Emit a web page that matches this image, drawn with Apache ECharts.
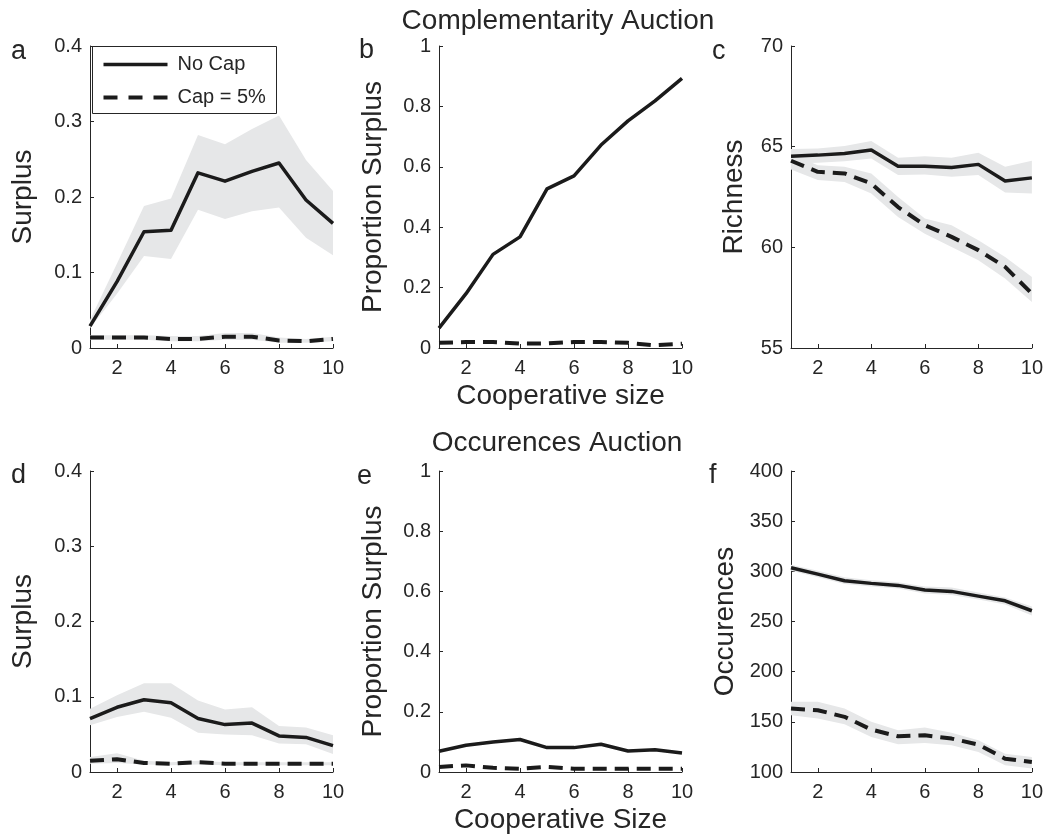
<!DOCTYPE html>
<html>
<head>
<meta charset="utf-8">
<title>Cooperative auctions</title>
<script src="https://cdn.jsdelivr.net/npm/echarts@6/dist/echarts.min.js"></script>
<style>
  html, body { margin: 0; padding: 0; background: #fff; }
  #chart { width: 1046px; height: 840px; }
</style>
</head>
<body>
<div id="chart"></div>
<script>
// Cooperative size (x values shared by every panel)
const sizes = [1, 2, 3, 4, 5, 6, 7, 8, 9, 10];
const xTickLabels = [2, 4, 6, 8, 10];

// Complementarity auction: surplus (a)
const aNoCap   = [0.029, 0.088, 0.154, 0.156, 0.232, 0.221, 0.234, 0.245, 0.196, 0.165];
const aNoCapHi = [0.037, 0.112, 0.188, 0.198, 0.282, 0.270, 0.290, 0.308, 0.249, 0.208];
const aNoCapLo = [0.026, 0.072, 0.122, 0.118, 0.183, 0.171, 0.181, 0.186, 0.146, 0.123];
const aCap     = [0.014, 0.014, 0.014, 0.012, 0.012, 0.015, 0.015, 0.010, 0.009, 0.012];
const aCapHi   = [0.017, 0.017, 0.017, 0.016, 0.016, 0.020, 0.020, 0.014, 0.012, 0.015];
const aCapLo   = [0.011, 0.011, 0.011, 0.009, 0.009, 0.011, 0.011, 0.007, 0.007, 0.009];

// Complementarity auction: proportion surplus (b)
const bNoCap = [0.066, 0.180, 0.310, 0.368, 0.527, 0.570, 0.672, 0.752, 0.818, 0.893];
const bCap   = [0.017, 0.020, 0.020, 0.015, 0.015, 0.020, 0.020, 0.017, 0.009, 0.014];

// Complementarity auction: richness (c)
const cNoCap   = [64.53, 64.58, 64.66, 64.83, 64.03, 64.03, 63.97, 64.12, 63.30, 63.45];
const cNoCapHi = [64.88, 64.91, 65.03, 65.28, 64.45, 64.53, 64.45, 64.70, 64.00, 64.30];
const cNoCapLo = [64.17, 64.20, 64.28, 64.41, 63.59, 63.62, 63.50, 63.59, 62.72, 62.67];
const cCap     = [64.30, 63.75, 63.67, 63.17, 62.00, 61.10, 60.52, 59.86, 59.03, 57.70];
const cCapHi   = [64.63, 64.08, 64.00, 63.67, 62.50, 61.43, 61.10, 60.35, 59.52, 58.53];
const cCapLo   = [63.87, 63.34, 63.25, 62.67, 61.51, 60.68, 60.02, 59.36, 58.45, 57.29];

// Occurences auction: surplus (d)
const dNoCap   = [0.071, 0.086, 0.096, 0.092, 0.071, 0.063, 0.065, 0.048, 0.046, 0.035];
const dNoCapHi = [0.084, 0.102, 0.118, 0.118, 0.095, 0.083, 0.086, 0.061, 0.059, 0.049];
const dNoCapLo = [0.062, 0.073, 0.080, 0.072, 0.052, 0.050, 0.049, 0.038, 0.037, 0.024];
const dCap     = [0.015, 0.017, 0.012, 0.011, 0.013, 0.011, 0.011, 0.011, 0.011, 0.011];
const dCapHi   = [0.020, 0.025, 0.015, 0.013, 0.015, 0.013, 0.013, 0.013, 0.013, 0.013];
const dCapLo   = [0.011, 0.012, 0.010, 0.009, 0.010, 0.009, 0.009, 0.009, 0.009, 0.009];

// Occurences auction: proportion surplus (e)
const eNoCap = [0.069, 0.089, 0.100, 0.108, 0.081, 0.081, 0.092, 0.070, 0.074, 0.063];
const eCap   = [0.017, 0.022, 0.014, 0.011, 0.017, 0.011, 0.011, 0.011, 0.011, 0.011];

// Occurences auction: occurences (f)
const fNoCap   = [303.6, 297.2, 290.6, 288.0, 286.0, 281.3, 280.0, 275.3, 270.6, 260.7];
const fNoCapHi = [306.5, 300.5, 294.0, 291.0, 289.0, 285.0, 284.0, 279.0, 274.0, 265.0];
const fNoCapLo = [300.5, 294.0, 287.5, 285.0, 283.0, 278.0, 276.5, 272.0, 267.0, 256.0];
const fCap     = [163.2, 161.6, 155.0, 142.3, 135.6, 136.6, 133.3, 127.3, 113.3, 110.0];
const fCapHi   = [169.9, 169.9, 163.2, 150.0, 141.6, 144.3, 139.0, 131.6, 118.3, 115.0];
const fCapLo   = [156.6, 153.2, 147.6, 135.0, 127.6, 129.0, 126.6, 120.0, 106.7, 103.4];

// Legend entries
const legendNames = ['No Cap', 'Cap = 5%'];

const FONT = '"Liberation Sans", Arial, Helvetica, sans-serif';
const INK = '#262626';
const LINE = '#1b1b1b';
const BAND = '#e6e7e8';
const DASH = [14, 8];

// Panel layout: plot rectangles and axis settings
const panels = [
  { left: 90,  top: 46,  width: 243, height: 302, min: 0,   max: 0.4, interval: 0.1, name: 'Surplus',            nameGap: 53, xName: '' },
  { left: 439, top: 46,  width: 243, height: 302, min: 0,   max: 1,   interval: 0.2, name: 'Proportion Surplus', nameGap: 52, xName: 'Cooperative size' },
  { left: 791, top: 46,  width: 241, height: 302, min: 55,  max: 70,  interval: 5,   name: 'Richness',           nameGap: 43, xName: '' },
  { left: 90,  top: 471, width: 243, height: 301, min: 0,   max: 0.4, interval: 0.1, name: 'Surplus',            nameGap: 53, xName: '' },
  { left: 439, top: 471, width: 243, height: 301, min: 0,   max: 1,   interval: 0.2, name: 'Proportion Surplus', nameGap: 52, xName: 'Cooperative Size' },
  { left: 791, top: 471, width: 241, height: 301, min: 100, max: 400, interval: 50,  name: 'Occurences',         nameGap: 52, xName: '' }
];

const pairs = (ys) => sizes.map((x, i) => [x, ys[i]]);

const grids = panels.map(p => ({ left: p.left, top: p.top, width: p.width, height: p.height }));

const xAxes = panels.map((p, i) => ({
  gridIndex: i,
  type: 'value',
  min: 1, max: 10, interval: 1,
  name: p.xName,
  nameLocation: 'middle',
  nameGap: 34,
  nameTextStyle: { fontSize: 28, color: INK, fontFamily: FONT },
  axisLine: { show: true, onZero: false, lineStyle: { color: INK, width: 1 } },
  axisTick: { show: true, inside: true, length: 4, customValues: xTickLabels, lineStyle: { color: INK } },
  axisLabel: { customValues: xTickLabels, fontSize: 20, color: INK, fontFamily: FONT, margin: 10 },
  splitLine: { show: false }
}));

const yAxes = panels.map((p, i) => ({
  gridIndex: i,
  type: 'value',
  min: p.min, max: p.max, interval: p.interval,
  name: p.name,
  nameLocation: 'middle',
  nameGap: p.nameGap,
  nameTextStyle: { fontSize: 28, color: INK, fontFamily: FONT },
  axisLine: { show: true, lineStyle: { color: INK, width: 1 } },
  axisTick: { show: true, inside: true, length: 4, lineStyle: { color: INK } },
  axisLabel: { fontSize: 20, color: INK, fontFamily: FONT, margin: 8 },
  splitLine: { show: false }
}));

const series = [];

// Shaded band between lo and hi, drawn as one polygon through the axis scales
function band(idx, lo, hi) {
  series.push({
    type: 'custom', xAxisIndex: idx, yAxisIndex: idx, silent: true, z: 1,
    data: sizes.map((x, i) => [x, lo[i], hi[i]]),
    encode: { x: 0, y: [1, 2] },
    renderItem: function (params, api) {
      if (params.dataIndex !== 0) return null;
      const top = sizes.map((x, i) => api.coord([x, hi[i]]));
      const bottom = sizes.map((x, i) => api.coord([x, lo[i]])).reverse();
      return {
        type: 'polygon',
        shape: { points: top.concat(bottom) },
        style: { fill: BAND, stroke: null }
      };
    }
  });
}

function curve(idx, name, ys, dashed) {
  series.push({
    name, type: 'line', xAxisIndex: idx, yAxisIndex: idx,
    data: pairs(ys), symbol: 'none', silent: true, z: 3,
    lineStyle: { color: LINE, width: dashed ? 4 : 3.5, type: dashed ? DASH : 'solid', join: 'round' },
    itemStyle: { color: LINE },
    emphasis: { disabled: true }
  });
}

band(0, aNoCapLo, aNoCapHi);
band(0, aCapLo, aCapHi);
curve(0, legendNames[0], aNoCap, false);
curve(0, legendNames[1], aCap, true);

curve(1, legendNames[0], bNoCap, false);
curve(1, legendNames[1], bCap, true);

band(2, cNoCapLo, cNoCapHi);
band(2, cCapLo, cCapHi);
curve(2, legendNames[0], cNoCap, false);
curve(2, legendNames[1], cCap, true);

band(3, dNoCapLo, dNoCapHi);
band(3, dCapLo, dCapHi);
curve(3, legendNames[0], dNoCap, false);
curve(3, legendNames[1], dCap, true);

curve(4, legendNames[0], eNoCap, false);
curve(4, legendNames[1], eCap, true);

band(5, fNoCapLo, fNoCapHi);
band(5, fCapLo, fCapHi);
curve(5, legendNames[0], fNoCap, false);
curve(5, legendNames[1], fCap, true);

// Section titles and panel letters
const txt = (text, x, y, size, align) => ({
  type: 'text', x, y, silent: true, z: 10,
  style: { text, fontSize: size, fontFamily: FONT, fill: INK, textAlign: align || 'center', textVerticalAlign: 'middle' }
});

// Legend box in panel a
const legendBox = {
  type: 'group', left: 92, top: 46, z: 10, silent: true,
  children: [
    { type: 'rect', shape: { x: 0, y: 0, width: 184, height: 67 },
      style: { fill: '#fff', stroke: INK, lineWidth: 1 } },
    { type: 'line', shape: { x1: 11, y1: 18, x2: 75, y2: 18 },
      style: { stroke: LINE, lineWidth: 3.5 } },
    { type: 'line', shape: { x1: 11, y1: 51, x2: 75, y2: 51 },
      style: { stroke: LINE, lineWidth: 4, lineDash: [14, 11] } },
    { type: 'text', x: 85, y: 18,
      style: { text: legendNames[0], fontSize: 20, fontFamily: FONT, fill: INK, textVerticalAlign: 'middle' } },
    { type: 'text', x: 85, y: 51,
      style: { text: legendNames[1], fontSize: 20, fontFamily: FONT, fill: INK, textVerticalAlign: 'middle' } }
  ]
};

const graphic = [
  txt('Complementarity Auction', 558, 21, 28),
  txt('Occurences Auction', 557, 443, 28),
  txt('a', 11, 52, 27, 'left'),
  txt('b', 359, 51, 27, 'left'),
  txt('c', 712, 52, 27, 'left'),
  txt('d', 11, 476, 27, 'left'),
  txt('e', 357, 477, 27, 'left'),
  txt('f', 709, 476, 27, 'left'),
  legendBox
];

const chart = echarts.init(document.getElementById('chart'), null, { renderer: 'canvas' });
chart.setOption({
  animation: false,
  backgroundColor: '#fff',
  textStyle: { fontFamily: FONT },
  grid: grids,
  xAxis: xAxes,
  yAxis: yAxes,
  graphic,
  series
});
</script>
</body>
</html>
